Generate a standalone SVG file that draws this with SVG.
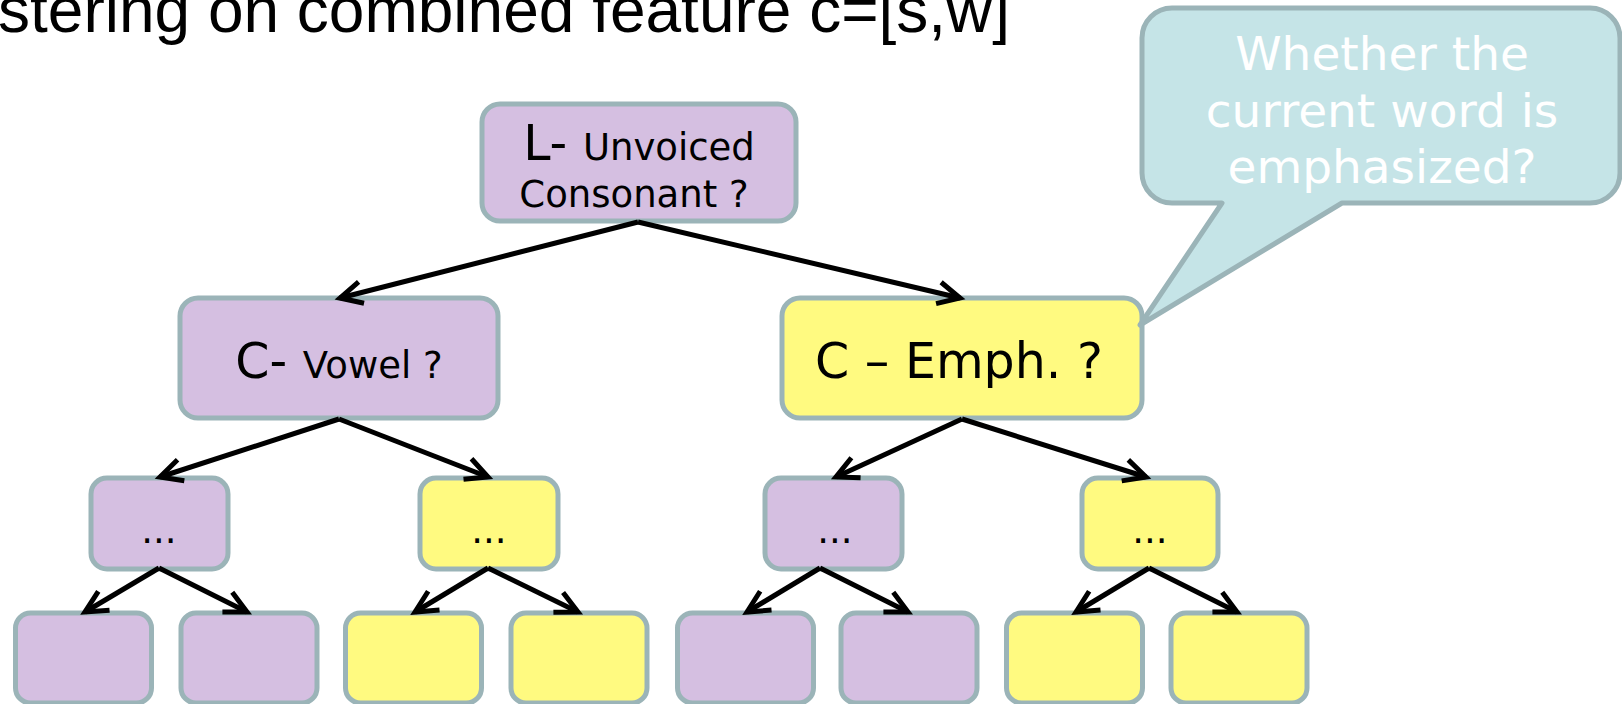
<svg xmlns="http://www.w3.org/2000/svg" width="1622" height="704" viewBox="0 0 1622 704">
  <defs>
    <style>
      .box { stroke: #9bb4b8; stroke-width: 5; }
      .purple { fill: #d5bfe1; }
      .yellow { fill: #fffa80; }
      .lbl { font-family: "DejaVu Sans", Verdana, sans-serif; fill: #000; text-anchor: middle; }
      .big { font-size: 49px; }
      .small { font-size: 37px; }
      .note { font-family: "DejaVu Sans", Verdana, sans-serif; font-size: 47px; fill: #ffffff; text-anchor: middle; }
    </style>
    <!-- open V arrowhead, sized in user units -->
    <marker id="head" markerUnits="userSpaceOnUse" viewBox="-40 -30 50 60" refX="0" refY="0" markerWidth="50" markerHeight="60" orient="auto" overflow="visible">
      <path d="M-22,-11 L0,0 L-22,11" fill="none" stroke="#000" stroke-width="5" stroke-linejoin="miter" stroke-linecap="butt"/>
    </marker>
  </defs>

  <!-- heading line -->
  <text x="-2" y="32" font-family="'Liberation Sans', Arial, sans-serif" font-size="64" fill="#000">stering on combined feature c=[s,w]</text>

  <!-- level 0 -->
  <g id="root">
    <rect class="box purple" x="482" y="104" width="314" height="117" rx="18"/>
    <text class="lbl" x="639" y="160"><tspan class="big">L- </tspan><tspan class="small">Unvoiced</tspan></text>
    <text class="lbl small" x="634" y="207">Consonant ?</text>
  </g>

  <!-- level 1 -->
  <g id="vowel">
    <rect class="box purple" x="180" y="298" width="318" height="120" rx="18"/>
    <text class="lbl" x="339" y="378"><tspan class="big">C- </tspan><tspan class="small">Vowel ?</tspan></text>
  </g>
  <g id="emph">
    <rect class="box yellow" x="782" y="298" width="360" height="120" rx="18"/>
    <text class="lbl big" x="959" y="378">C – Emph. ?</text>
  </g>

  <!-- level 2 -->
  <g id="n2a">
    <rect class="box purple" x="91" y="478" width="137" height="91" rx="16"/>
    <text class="lbl small" x="159" y="543">...</text>
  </g>
  <g id="n2b">
    <rect class="box yellow" x="420" y="478" width="138" height="91" rx="16"/>
    <text class="lbl small" x="489" y="543">...</text>
  </g>
  <g id="n2c">
    <rect class="box purple" x="765" y="478" width="137" height="91" rx="16"/>
    <text class="lbl small" x="835" y="543">...</text>
  </g>
  <g id="n2d">
    <rect class="box yellow" x="1082" y="478" width="136" height="91" rx="16"/>
    <text class="lbl small" x="1150" y="543">...</text>
  </g>

  <!-- level 3 leaves -->
  <g id="leaf1"><rect class="box purple" x="15.5" y="613" width="136" height="90" rx="15"/></g>
  <g id="leaf2"><rect class="box purple" x="181" y="613" width="136" height="90" rx="15"/></g>
  <g id="leaf3"><rect class="box yellow" x="345.5" y="613" width="136" height="90" rx="15"/></g>
  <g id="leaf4"><rect class="box yellow" x="511" y="613" width="136" height="90" rx="15"/></g>
  <g id="leaf5"><rect class="box purple" x="677.5" y="613" width="136" height="90" rx="15"/></g>
  <g id="leaf6"><rect class="box purple" x="841" y="613" width="136" height="90" rx="15"/></g>
  <g id="leaf7"><rect class="box yellow" x="1006.5" y="613" width="136" height="90" rx="15"/></g>
  <g id="leaf8"><rect class="box yellow" x="1171" y="613" width="136" height="90" rx="15"/></g>

  <!-- connectors, drawn over the box borders -->
  <g id="connectors" stroke="#000" stroke-width="5" fill="none" marker-end="url(#head)">
    <line x1="638" y1="222" x2="340" y2="298"/>
    <line x1="638" y1="222" x2="960" y2="298"/>
    <line x1="339" y1="419" x2="160" y2="477"/>
    <line x1="339" y1="419" x2="488" y2="477"/>
    <line x1="962" y1="419" x2="836" y2="477"/>
    <line x1="962" y1="419" x2="1146" y2="477"/>
    <line x1="159" y1="568" x2="85" y2="612"/>
    <line x1="159" y1="568" x2="247" y2="612"/>
    <line x1="488" y1="568" x2="415" y2="612"/>
    <line x1="488" y1="568" x2="578" y2="612"/>
    <line x1="820" y1="568" x2="747" y2="612"/>
    <line x1="820" y1="568" x2="908" y2="612"/>
    <line x1="1149" y1="568" x2="1076" y2="612"/>
    <line x1="1149" y1="568" x2="1237" y2="612"/>
  </g>

  <!-- speech bubble pointing at the emphasis node -->
  <g id="callout">
    <path d="M1172,8 H1590 A30,30 0 0 1 1620,38 V173 A30,30 0 0 1 1590,203 H1342 L1140,325 L1222,203 H1172 A30,30 0 0 1 1142,173 V38 A30,30 0 0 1 1172,8 Z" fill="#c5e4e7" stroke="#9bb4b8" stroke-width="5" stroke-linejoin="round"/>
    <text class="note" x="1382" y="70">Whether the</text>
    <text class="note" x="1382" y="127">current word is</text>
    <text class="note" x="1382" y="183">emphasized?</text>
  </g>
</svg>
